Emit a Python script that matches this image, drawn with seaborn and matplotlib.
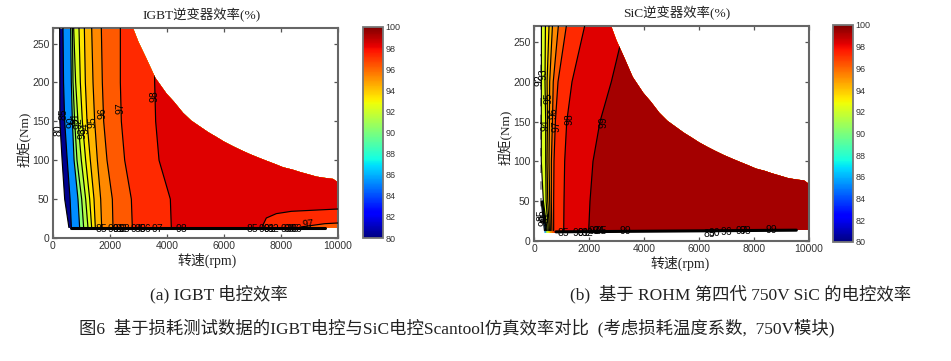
import matplotlib
matplotlib.use("Agg")
import matplotlib.pyplot as plt
import seaborn as sns
from matplotlib.patches import Polygon
from matplotlib.cm import ScalarMappable
from matplotlib.colors import Normalize

# ---------- data ----------
TORQUE = [13, 50, 100, 150, 200, 270]

IGBT_LEVELS = [80, 85, 90, 91, 92, 93, 94, 95, 96, 97, 98]
igbt_80 = [560, 410, 320, 240, 240, 234]
igbt_85 = [645, 600, 500, 410, 370, 350]
igbt_90 = [935, 877, 740, 680, 643, 620]
igbt_91 = [1076, 1006, 842, 760, 702, 680]
igbt_92 = [1228, 1146, 994, 877, 795, 725]
igbt_93 = [1357, 1287, 1146, 1030, 959, 912]
igbt_94 = [1485, 1439, 1310, 1193, 1135, 1100]
igbt_95 = [1708, 1673, 1556, 1462, 1404, 1357]
igbt_96 = [2105, 2082, 1895, 1778, 1731, 1696]
igbt_97 = [2784, 2749, 2515, 2398, 2363, 2363]
igbt_98 = [4152, 4117, 3720, 3602, 3567, 3567]
igbt_curves = [igbt_80, igbt_85, igbt_90, igbt_91, igbt_92, igbt_93,
               igbt_94, igbt_95, igbt_96, igbt_97, igbt_98]
# high-speed, low-torque branches
igbt_97_tail_speed = [8655, 9532, 10000]
igbt_97_tail_torque = [14, 18.4, 19.3]
igbt_98_tail_speed = [7345, 7485, 7836, 8363, 10000]
igbt_98_tail_torque = [15, 25.7, 31.3, 34.3, 37.3]
igbt_base_speed = [640, 9530]
igbt_base_torque = [13.2, 13.2]
igbt_floor_torque = [13, 13]

SIC_LEVELS = [85, 90, 91, 92, 93, 94, 95, 96, 97, 98, 99]
sic_85 = [380, 262]
sic_90 = [425, 291]
sic_91 = [450, 310]
sic_92 = [480, 340, 265, 265, 267, 270]
sic_93 = [520, 440, 425, 425, 400, 415]
sic_94 = [560, 500, 473, 490, 475, 546]
sic_95 = [595, 570, 546, 560, 570, 670]
sic_96 = [650, 630, 632, 670, 700, 885]
sic_97 = [715, 715, 727, 777, 873, 1176]
sic_98 = [1080, 1091, 1115, 1190, 1382, 1842]
sic_99 = [1988, 2036, 2145, 2400, 2812, 3300]
sic_curves = [sic_85, sic_90, sic_91, sic_92, sic_93, sic_94,
              sic_95, sic_96, sic_97, sic_98, sic_99]
sic_base_speed = [800, 9540]
sic_base_torque = [11.5, 13.6]
sic_floor_torque = [10, 14]
sic_dash_speed = [242, 242]
sic_dash_torque = [22, 235]

# upper edge of the operating region
limit_speed = [2807, 3000, 3275, 3590, 3977, 4250, 4561, 4850, 5146, 5450, 5731, 6000,
               6316, 6600, 6900, 7200, 7485, 7800, 8070, 8400, 8655, 9000, 9240, 9500,
               9825, 10000]
limit_torque = [270, 252, 231, 206, 186, 175, 161, 151, 143.6, 136, 130, 124,
                118, 113, 108, 103.5, 99.4, 95, 91, 88, 85, 81.5, 79, 77.5,
                76, 71.6]

# contour labels: text, speed, torque
igbt_side_text = ["80", "85", "90", "91", "92", "93", "94", "95", "96", "97", "98"]
igbt_side_speed = [200, 351, 645, 796, 912, 1019, 1147, 1381, 1733, 2363, 3544]
igbt_side_torque = [139, 159, 149.5, 154, 148, 135, 141, 149.5, 161, 167, 183]
igbt_low_text = ["85", "90", "91", "92", "93", "94", "95", "96", "97", "98",
                 "85", "90", "91", "92", "93", "94", "95", "96"]
igbt_low_speed = [1696, 2129, 2280, 2400, 2515, 2924, 3080, 3240, 3649, 4503,
                  6994, 7427, 7580, 7745, 8187, 8300, 8420, 8538]
igbt_low_torque = [11] * 18
igbt_tail_label_speed = [8947]
igbt_tail_label_torque = [17]

sic_side_text = ["92", "93", "95", "96", "94", "97", "98", "99", "85", "90", "91"]
sic_side_speed = [182, 351, 545, 691, 424, 836, 1273, 2533, 267, 352, 412]
sic_side_torque = [202, 210, 179, 160, 146, 144, 153, 149, 33, 26, 30]
sic_low_text = ["85", "90", "91", "92", "93", "94", "95", "99",
                "85", "90", "96", "97", "98", "99"]
sic_low_speed = [1055, 1600, 1782, 1927, 2206, 2330, 2448, 3321,
                 6388, 6570, 6994, 7540, 7700, 8630]
sic_low_torque = [10.5, 10.5, 10, 10, 12.5, 12.5, 12.5, 13,
                  9, 9.5, 11, 12, 12, 14]

X_TICKS = [0, 2000, 4000, 6000, 8000, 10000]
Y_TICKS = [0, 50, 100, 150, 200, 250]
CBAR_TICKS = list(range(80, 101, 2))

# ---------- style ----------
W, H = 951, 361
sns.set_theme(style="ticks", rc={"axes.linewidth": 1.5, "axes.edgecolor": "#666666"})
SERIF_CJK = ["Liberation Serif", "Noto Sans CJK SC"]
SANS = ["Liberation Sans", "DejaVu Sans"]
plt.rcParams["font.family"] = SERIF_CJK
plt.rcParams["axes.unicode_minus"] = False

cmap = plt.get_cmap("jet")
norm = Normalize(80, 100)
BAND_SHIFT = 0.3
fig = plt.figure(figsize=(W / 100, H / 100), dpi=100, facecolor="white")


def px_axes(left, top, right, bottom):
    return fig.add_axes([left / W, 1 - bottom / H, (right - left) / W, (bottom - top) / H])


def draw_map(ax, levels, curves, tails, base_speed, base_torque, floor_torque):
    outline = [(0, floor_torque[0]), (10000, floor_torque[1])] + \
        list(zip(limit_speed[::-1], limit_torque[::-1])) + [(0, 270)]

    def region():
        return Polygon(outline, closed=True, transform=ax.transData)

    for lev, speeds in zip(levels, curves):
        edge = list(zip(speeds, TORQUE))
        if lev in tails:
            xs, ys = tails[lev]
            lower = list(zip(xs[::-1], ys[::-1])) + [(xs[0], 0)]
        else:
            lower = [(10000, 0)]
        pts = edge + [(10000, 270)] + lower + [(speeds[0], 0)]
        patch = Polygon(pts, closed=True, facecolor=cmap(norm(lev + BAND_SHIFT)),
                        edgecolor="none", zorder=1)
        ax.add_patch(patch)
        patch.set_clip_path(region())
    for lev, speeds in zip(levels, curves):
        segs = [(speeds, TORQUE[:len(speeds)])]
        if lev in tails:
            segs.append(tails[lev])
        for xs, ys in segs:
            before = len(ax.lines)
            sns.lineplot(x=xs, y=ys, sort=False, estimator=None, color="black", lw=0.85,
                         ax=ax, legend=False, zorder=3)
            for ln in ax.lines[before:]:
                ln.set_clip_path(region())
    sns.lineplot(x=base_speed, y=base_torque, sort=False, estimator=None, color="black",
                 lw=2.2, ax=ax, legend=False, zorder=3)
    ax.set_xlim(0, 10000)
    ax.set_ylim(0, 270)
    ax.set_xticks(X_TICKS)
    ax.set_yticks(Y_TICKS)
    ax.tick_params(direction="in", length=3, width=0.9, color="#555555", top=True, right=True,
                   labelsize=7.5, labelcolor="#333333", pad=2.5)
    for lab in ax.get_xticklabels() + ax.get_yticklabels():
        lab.set_family(SANS)
    for sp in ax.spines.values():
        sp.set_visible(True)
    ax.set_facecolor("white")


def add_labels(ax, text, xs, ys, rot):
    for t, x, y in zip(text, xs, ys):
        ax.text(x, y, t, rotation=rot, ha="center", va="center", fontsize=7.5,
                family=SANS, color="black", zorder=4)


def add_cbar(left, top, right, bottom):
    cax = px_axes(left, top, right, bottom)
    cb = fig.colorbar(ScalarMappable(norm=norm, cmap=cmap), cax=cax, ticks=CBAR_TICKS)
    cb.ax.tick_params(length=0, labelsize=6.5, labelcolor="#333333", pad=2)
    for lab in cb.ax.get_yticklabels():
        lab.set_family(SANS)
    cb.outline.set_edgecolor("#777777")
    cb.outline.set_linewidth(1.3)


ax1 = px_axes(53, 28, 338, 238)
draw_map(ax1, IGBT_LEVELS, igbt_curves,
         {97: (igbt_97_tail_speed, igbt_97_tail_torque),
          98: (igbt_98_tail_speed, igbt_98_tail_torque)},
         igbt_base_speed, igbt_base_torque, igbt_floor_torque)
add_labels(ax1, igbt_side_text, igbt_side_speed, igbt_side_torque, 90)
add_labels(ax1, igbt_low_text, igbt_low_speed, igbt_low_torque, 0)
add_labels(ax1, ["97"], igbt_tail_label_speed, igbt_tail_label_torque, 5)
ax1.set_title("IGBT逆变器效率(%)", fontsize=9.6, pad=6, color="#222222", x=0.52)
ax1.set_xlabel("转速(rpm)", fontsize=10, labelpad=1, color="#222222", x=0.54)
ax1.set_ylabel("扭矩(Nm)", fontsize=9.5, labelpad=0, color="#222222", y=0.47)
add_cbar(363, 27, 383, 238)

ax2 = px_axes(534, 26, 809, 241)
draw_map(ax2, SIC_LEVELS, sic_curves, {}, sic_base_speed, sic_base_torque, sic_floor_torque)
sns.lineplot(x=sic_dash_speed, y=sic_dash_torque, sort=False, estimator=None, color="#888888",
             lw=1.2, linestyle=(0, (5, 5)), ax=ax2, legend=False, zorder=2)
add_labels(ax2, sic_side_text, sic_side_speed, sic_side_torque, 90)
add_labels(ax2, sic_low_text, sic_low_speed, sic_low_torque, 0)
ax2.set_title("SiC逆变器效率(%)", fontsize=9.6, pad=6, color="#222222", x=0.52)
ax2.set_xlabel("转速(rpm)", fontsize=10, labelpad=1, color="#222222", x=0.53)
ax2.set_ylabel("扭矩(Nm)", fontsize=9.5, labelpad=0, color="#222222", y=0.48)
add_cbar(833, 25, 853, 242)

fig.text(219 / W, 1 - 294 / H, "(a) IGBT 电控效率", ha="center", va="center",
         fontsize=12.5, color="#222222")
fig.text(741 / W, 1 - 294 / H, "(b)  基于 ROHM 第四代 750V SiC 的电控效率", ha="center",
         va="center", fontsize=12.5, color="#222222")
fig.text(457 / W, 1 - 328 / H,
         "图6  基于损耗测试数据的IGBT电控与SiC电控Scantool仿真效率对比  (考虑损耗温度系数,  750V模块)",
         ha="center", va="center", fontsize=12.5, color="#222222")

fig.savefig("out.png", dpi=100, facecolor="white")
